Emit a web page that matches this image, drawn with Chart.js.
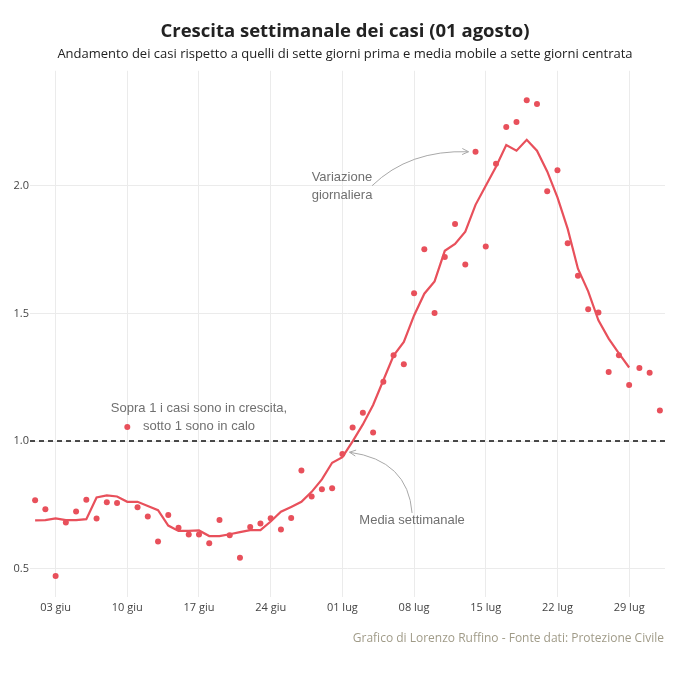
<!DOCTYPE html>
<html><head><meta charset="utf-8">
<script src="https://cdn.jsdelivr.net/npm/chart.js@4"></script>
<style>html,body{margin:0;padding:0;background:#fff}</style>
</head><body>
<canvas id="c" width="680" height="680" style="width:680px;height:680px;display:block"></canvas>
<script>
const dates = [
  '01 giu','02 giu','03 giu','04 giu','05 giu','06 giu','07 giu','08 giu','09 giu','10 giu',
  '11 giu','12 giu','13 giu','14 giu','15 giu','16 giu','17 giu','18 giu','19 giu','20 giu',
  '21 giu','22 giu','23 giu','24 giu','25 giu','26 giu','27 giu','28 giu','29 giu','30 giu',
  '01 lug','02 lug','03 lug','04 lug','05 lug','06 lug','07 lug','08 lug','09 lug','10 lug',
  '11 lug','12 lug','13 lug','14 lug','15 lug','16 lug','17 lug','18 lug','19 lug','20 lug',
  '21 lug','22 lug','23 lug','24 lug','25 lug','26 lug','27 lug','28 lug','29 lug','30 lug',
  '31 lug','01 ago'
];
const variazioneGiornaliera = [
  0.768,0.733,0.471,0.681,0.724,0.770,0.697,0.760,0.757,1.055,
  0.741,0.704,0.607,0.710,0.660,0.634,0.634,0.600,0.691,0.631,
  0.543,0.663,0.677,0.698,0.654,0.699,0.885,0.783,0.811,0.815,
  0.949,1.053,1.111,1.033,1.232,1.336,1.301,1.579,1.751,1.501,
  1.721,1.850,1.691,2.133,1.762,2.086,2.230,2.249,2.335,2.320,
  1.978,2.061,1.775,1.647,1.516,1.503,1.270,1.336,1.219,1.286,
  1.267,1.120
];
const mediaSettimanale = [
  0.689,0.690,0.697,0.690,0.690,0.694,0.779,0.787,0.783,0.762,
  0.762,0.746,0.729,0.669,0.648,0.648,0.650,0.628,0.628,0.635,
  0.643,0.651,0.651,0.685,0.723,0.742,0.762,0.801,0.850,0.915,
  0.937,0.999,1.065,1.141,1.238,1.335,1.388,1.492,1.577,1.625,
  1.745,1.772,1.820,1.925,2.000,2.074,2.159,2.137,2.180,2.137,
  2.056,1.954,1.831,1.675,1.586,1.473,1.401,1.343,1.288,null,
  null,null
];
const tickDates = ['03 giu','10 giu','17 giu','24 giu','01 lug','08 lug','15 lug','22 lug','29 lug'];
const yTicks = [0.5, 1.0, 1.5, 2.0];
const soglia = 1.0;

const RED = '#e8505b';
const GRID = '#ebebeb';
const NOTE = '#707070';
const ARROW = '#a8a8a8';

function arrowHead(ctx, fx, fy, tx, ty) {
  const a = Math.atan2(ty - fy, tx - fx), L = 7;
  ctx.beginPath();
  ctx.moveTo(tx - L * Math.cos(a - 0.45), ty - L * Math.sin(a - 0.45));
  ctx.lineTo(tx, ty);
  ctx.lineTo(tx - L * Math.cos(a + 0.45), ty - L * Math.sin(a + 0.45));
  ctx.stroke();
}

const extras = {
  id: 'extras',
  beforeDatasetsDraw(chart) {
    const {ctx, chartArea, scales: {y}} = chart;
    const py = y.getPixelForValue(soglia);
    ctx.save();
    ctx.strokeStyle = '#111';
    ctx.lineWidth = 1.4;
    ctx.setLineDash([5, 4]);
    ctx.beginPath();
    ctx.moveTo(chartArea.left, py);
    ctx.lineTo(chartArea.right, py);
    ctx.stroke();
    ctx.restore();
  },
  afterDraw(chart) {
    const {ctx, scales: {x, y}} = chart;
    const P = (d, v) => ({x: x.getPixelForValue(dates.indexOf(d)), y: y.getPixelForValue(v)});
    ctx.save();
    ctx.font = '13px "Liberation Sans", Arial, sans-serif';
    ctx.fillStyle = NOTE;
    ctx.textBaseline = 'middle';
    // Variazione giornaliera
    const t1 = P('28 giu', 2.031), t2 = P('28 giu', 1.961);
    ctx.textAlign = 'left';
    ctx.fillText('Variazione', t1.x, t1.y);
    ctx.fillText('giornaliera', t2.x, t2.y);
    // Soglia note
    ctx.textAlign = 'center';
    const s1 = P('17 giu', 1.129), s2 = P('17 giu', 1.059);
    ctx.fillText('Sopra 1 i casi sono in crescita,', s1.x, s1.y);
    ctx.fillText('sotto 1 sono in calo', s2.x, s2.y);
    // Media settimanale
    const m = P('08 lug', 0.691);
    ctx.fillText('Media settimanale', m.x - 2, m.y);

    ctx.strokeStyle = ARROW;
    ctx.lineWidth = 1;
    // arrow 1
    const a0 = P('04 lug', 2.0);
    const pk = P('14 lug', variazioneGiornaliera[dates.indexOf('14 lug')]);
    const a1 = {x: pk.x - 7, y: pk.y};
    const c1 = {x: a0.x + 36, y: a1.y - 2};
    ctx.beginPath();
    ctx.moveTo(a0.x - 1, a0.y);
    ctx.quadraticCurveTo(c1.x, c1.y, a1.x, a1.y);
    ctx.stroke();
    arrowHead(ctx, c1.x, c1.y, a1.x, a1.y);
    // arrow 2
    const l1 = P('01 lug', mediaSettimanale[dates.indexOf('01 lug')]);
    const l2 = P('02 lug', mediaSettimanale[dates.indexOf('02 lug')]);
    const b1 = {x: (l1.x + l2.x) / 2 + 2, y: (l1.y + l2.y) / 2 + 3};
    const b0 = {x: m.x - 2, y: m.y - 7};
    const c2 = {x: b0.x - 4, y: b1.y + 8};
    ctx.beginPath();
    ctx.moveTo(b0.x, b0.y);
    ctx.quadraticCurveTo(c2.x, c2.y, b1.x, b1.y);
    ctx.stroke();
    arrowHead(ctx, c2.x, c2.y, b1.x, b1.y);

    // footer
    ctx.font = '12px "Open Sans", sans-serif';
    ctx.fillStyle = '#a09b88';
    ctx.textAlign = 'right';
    ctx.fillText('Grafico di Lorenzo Ruffino - Fonte dati: Protezione Civile', 664, 639);
    ctx.restore();
  }
};

new Chart(document.getElementById('c'), {
  type: 'line',
  data: {
    labels: dates,
    datasets: [
      {
        label: 'Media settimanale',
        data: mediaSettimanale,
        borderColor: RED,
        borderWidth: 2.2,
        pointRadius: 0,
        tension: 0,
        fill: false,
        order: 1
      },
      {
        label: 'Variazione giornaliera',
        data: variazioneGiornaliera,
        showLine: false,
        pointRadius: 3,
        pointBorderWidth: 0,
        pointBackgroundColor: RED,
        pointBorderColor: RED,
        order: 2
      }
    ]
  },
  options: {
    responsive: false,
    devicePixelRatio: 1,
    animation: false,
    layout: {padding: {left: 10, right: 0, top: 0, bottom: 62}},
    plugins: {
      legend: {display: false},
      tooltip: {enabled: false},
      title: {
        display: true,
        text: 'Crescita settimanale dei casi (01 agosto)',
        color: '#222',
        font: {family: '"Open Sans", sans-serif', size: 18.5, weight: 'bold'},
        padding: {top: 21, bottom: 3}
      },
      subtitle: {
        display: true,
        text: 'Andamento dei casi rispetto a quelli di sette giorni prima e media mobile a sette giorni centrata',
        color: '#222',
        font: {family: '"Open Sans", sans-serif', size: 13},
        padding: {top: 0, bottom: 9}
      }
    },
    scales: {
      x: {
        type: 'category',
        offset: true,
        border: {display: false},
        grid: {
          offset: false,
          drawTicks: false,
          color: c => (c.tick && tickDates.includes(dates[c.index])) ? GRID : 'rgba(0,0,0,0)'
        },
        ticks: {
          autoSkip: false,
          maxRotation: 0,
          padding: 4,
          color: '#444',
          font: {family: '"Open Sans", sans-serif', size: 11},
          callback: (v, i) => tickDates.includes(dates[i]) ? dates[i] : ''
        }
      },
      y: {
        position: 'left',
        min: 0.39,
        max: 2.45,
        border: {display: false},
        grid: {color: GRID, drawTicks: false},
        afterBuildTicks: s => { s.ticks = yTicks.map(v => ({value: v})); },
        afterFit: s => { s.width = 20; },
        ticks: {
          padding: 1,
          color: '#444',
          font: {family: '"Open Sans", sans-serif', size: 11},
          callback: v => Number(v).toFixed(1)
        }
      },
      yRight: {
        position: 'right',
        display: true,
        border: {display: false},
        grid: {display: false, drawTicks: false},
        ticks: {display: false},
        afterFit: s => { s.width = 15; }
      }
    }
  },
  plugins: [extras]
});
</script>
</body></html>
